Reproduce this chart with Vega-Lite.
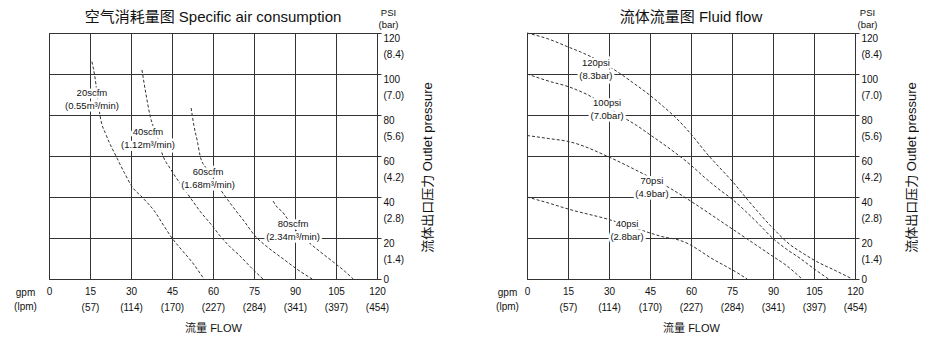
{
  "$schema": "https://vega.github.io/schema/vega-lite/v6.json",
  "background": "white",
  "padding": {"left": 13, "top": 6, "right": 0, "bottom": 0},
  "spacing": 60,
  "config": {
    "view": {"stroke": "#333", "strokeWidth": 1},
    "font": "Liberation Sans, Noto Sans CJK SC, sans-serif"
  },
  "datasets": {
    "air": [
      {"curve": "20scfm", "flow": 15.7, "psi": 106}, {"curve": "20scfm", "flow": 16.8, "psi": 98.5}, {"curve": "20scfm", "flow": 18.3, "psi": 83}, {"curve": "20scfm", "flow": 18.7, "psi": 79.5}, {"curve": "20scfm", "flow": 21, "psi": 70}, {"curve": "20scfm", "flow": 24.5, "psi": 60}, {"curve": "20scfm", "flow": 27.5, "psi": 52}, {"curve": "20scfm", "flow": 30.4, "psi": 45}, {"curve": "20scfm", "flow": 34, "psi": 40}, {"curve": "20scfm", "flow": 38.8, "psi": 32.7}, {"curve": "20scfm", "flow": 42, "psi": 26}, {"curve": "20scfm", "flow": 45, "psi": 20}, {"curve": "20scfm", "flow": 49, "psi": 13.5}, {"curve": "20scfm", "flow": 52.3, "psi": 8.3}, {"curve": "20scfm", "flow": 56.7, "psi": 0},
      {"curve": "40scfm", "flow": 34, "psi": 102}, {"curve": "40scfm", "flow": 35.5, "psi": 90}, {"curve": "40scfm", "flow": 37, "psi": 79.5}, {"curve": "40scfm", "flow": 39.5, "psi": 70}, {"curve": "40scfm", "flow": 41.7, "psi": 60}, {"curve": "40scfm", "flow": 44.3, "psi": 54}, {"curve": "40scfm", "flow": 48, "psi": 46.5}, {"curve": "40scfm", "flow": 51.5, "psi": 40}, {"curve": "40scfm", "flow": 55.3, "psi": 33}, {"curve": "40scfm", "flow": 60, "psi": 25.5}, {"curve": "40scfm", "flow": 62.6, "psi": 21}, {"curve": "40scfm", "flow": 66, "psi": 16}, {"curve": "40scfm", "flow": 69.9, "psi": 11.2}, {"curve": "40scfm", "flow": 74, "psi": 5.5}, {"curve": "40scfm", "flow": 78.3, "psi": 0},
      {"curve": "60scfm", "flow": 52, "psi": 83.4}, {"curve": "60scfm", "flow": 53, "psi": 75}, {"curve": "60scfm", "flow": 54.3, "psi": 67}, {"curve": "60scfm", "flow": 55.3, "psi": 60}, {"curve": "60scfm", "flow": 57.5, "psi": 54}, {"curve": "60scfm", "flow": 62, "psi": 45}, {"curve": "60scfm", "flow": 67.4, "psi": 35}, {"curve": "60scfm", "flow": 71.5, "psi": 28}, {"curve": "60scfm", "flow": 75.4, "psi": 21}, {"curve": "60scfm", "flow": 80, "psi": 15.5}, {"curve": "60scfm", "flow": 85.7, "psi": 9.8}, {"curve": "60scfm", "flow": 90.5, "psi": 5}, {"curve": "60scfm", "flow": 96.3, "psi": 0},
      {"curve": "80scfm", "flow": 82, "psi": 38}, {"curve": "80scfm", "flow": 83.5, "psi": 35}, {"curve": "80scfm", "flow": 85.2, "psi": 33}, {"curve": "80scfm", "flow": 89, "psi": 26}, {"curve": "80scfm", "flow": 93.7, "psi": 19.5}, {"curve": "80scfm", "flow": 99, "psi": 13.5}, {"curve": "80scfm", "flow": 104, "psi": 8.3}, {"curve": "80scfm", "flow": 108, "psi": 4}, {"curve": "80scfm", "flow": 111.3, "psi": 0}
    ],
    "airlab": [
      {"flow": 15.7, "psi": 90.5, "t": "20scfm\n(0.55m³/min)"},
      {"flow": 36.2, "psi": 71.5, "t": "40scfm\n(1.12m³/min)"},
      {"flow": 58.2, "psi": 52.2, "t": "60scfm\n(1.68m³/min)"},
      {"flow": 89.3, "psi": 26.8, "t": "80scfm\n(2.34m³/min)"}
    ],
    "fluid": [
      {"curve": "120psi", "flow": 0, "psi": 120}, {"curve": "120psi", "flow": 8, "psi": 117}, {"curve": "120psi", "flow": 15.4, "psi": 113}, {"curve": "120psi", "flow": 19.7, "psi": 110.7}, {"curve": "120psi", "flow": 32.6, "psi": 101.5}, {"curve": "120psi", "flow": 38.5, "psi": 96}, {"curve": "120psi", "flow": 44.6, "psi": 90}, {"curve": "120psi", "flow": 50, "psi": 84}, {"curve": "120psi", "flow": 53.8, "psi": 79.5}, {"curve": "120psi", "flow": 60, "psi": 70.7}, {"curve": "120psi", "flow": 65.9, "psi": 61}, {"curve": "120psi", "flow": 70, "psi": 55}, {"curve": "120psi", "flow": 75, "psi": 47.8}, {"curve": "120psi", "flow": 80.5, "psi": 39}, {"curve": "120psi", "flow": 85, "psi": 32}, {"curve": "120psi", "flow": 89.8, "psi": 25}, {"curve": "120psi", "flow": 96, "psi": 17}, {"curve": "120psi", "flow": 101, "psi": 12.5}, {"curve": "120psi", "flow": 106, "psi": 8.5}, {"curve": "120psi", "flow": 113, "psi": 4}, {"curve": "120psi", "flow": 119, "psi": 0},
      {"curve": "100psi", "flow": 0, "psi": 100}, {"curve": "100psi", "flow": 8, "psi": 96.5}, {"curve": "100psi", "flow": 15.4, "psi": 93.7}, {"curve": "100psi", "flow": 22, "psi": 90}, {"curve": "100psi", "flow": 34.4, "psi": 79.5}, {"curve": "100psi", "flow": 40, "psi": 75}, {"curve": "100psi", "flow": 45.4, "psi": 70}, {"curve": "100psi", "flow": 53.8, "psi": 62}, {"curve": "100psi", "flow": 60, "psi": 55.5}, {"curve": "100psi", "flow": 65, "psi": 49.5}, {"curve": "100psi", "flow": 70, "psi": 44}, {"curve": "100psi", "flow": 75, "psi": 39}, {"curve": "100psi", "flow": 80, "psi": 33}, {"curve": "100psi", "flow": 85, "psi": 26.5}, {"curve": "100psi", "flow": 89.8, "psi": 20}, {"curve": "100psi", "flow": 95, "psi": 14.5}, {"curve": "100psi", "flow": 100, "psi": 10}, {"curve": "100psi", "flow": 105, "psi": 5}, {"curve": "100psi", "flow": 110.3, "psi": 0},
      {"curve": "70psi", "flow": 0, "psi": 70}, {"curve": "70psi", "flow": 8, "psi": 68.5}, {"curve": "70psi", "flow": 15.4, "psi": 67}, {"curve": "70psi", "flow": 30, "psi": 59.5}, {"curve": "70psi", "flow": 39, "psi": 53.7}, {"curve": "70psi", "flow": 52.7, "psi": 44}, {"curve": "70psi", "flow": 59.3, "psi": 38.5}, {"curve": "70psi", "flow": 65, "psi": 33.5}, {"curve": "70psi", "flow": 70, "psi": 29}, {"curve": "70psi", "flow": 75, "psi": 24.5}, {"curve": "70psi", "flow": 80, "psi": 20}, {"curve": "70psi", "flow": 85, "psi": 15.5}, {"curve": "70psi", "flow": 90, "psi": 11}, {"curve": "70psi", "flow": 95, "psi": 6.5}, {"curve": "70psi", "flow": 100.6, "psi": 0},
      {"curve": "40psi", "flow": 0, "psi": 40}, {"curve": "40psi", "flow": 8, "psi": 37}, {"curve": "40psi", "flow": 15.4, "psi": 34}, {"curve": "40psi", "flow": 30, "psi": 29}, {"curve": "40psi", "flow": 42.8, "psi": 23.4}, {"curve": "40psi", "flow": 50, "psi": 20.5}, {"curve": "40psi", "flow": 55.6, "psi": 19}, {"curve": "40psi", "flow": 59.3, "psi": 17}, {"curve": "40psi", "flow": 63, "psi": 14}, {"curve": "40psi", "flow": 67, "psi": 10.5}, {"curve": "40psi", "flow": 73, "psi": 6}, {"curve": "40psi", "flow": 77, "psi": 3}, {"curve": "40psi", "flow": 80.5, "psi": 0}
    ],
    "fluidlab": [
      {"flow": 25.2, "psi": 105.6, "t": "120psi\n(8.3bar)"},
      {"flow": 29.3, "psi": 85.9, "t": "100psi\n(7.0bar)"},
      {"flow": 45.7, "psi": 47.6, "t": "70psi\n(4.9bar)"},
      {"flow": 36.6, "psi": 26.6, "t": "40psi\n(2.8bar)"}
    ]
  },
  "hconcat": [
    {
      "width": 328,
      "height": 246,
      "title": {"text": "空气消耗量图 Specific air consumption", "fontSize": 15, "fontWeight": "normal", "anchor": "middle", "offset": -18, "color": "#111"},
      "layer": [
        {
          "data": {"name": "air"},
          "mark": {"type": "line", "strokeDash": [3, 2], "strokeWidth": 1, "color": "#333", "interpolate": "monotone"},
          "encoding": {
            "x": {"field": "flow", "type": "quantitative", "scale": {"domain": [0, 120], "nice": false},
              "axis": {"orient": "bottom", "values": [0, 15, 30, 45, 60, 75, 90, 105, 120], "grid": true, "gridColor": "#333", "gridWidth": 1, "gridOpacity": 1, "domain": false, "ticks": false, "labelPadding": 7, "labelBaseline": "top", "labelFontSize": 10, "labelColor": "#111", "labelLineHeight": 16, "labelFlush": false, "labelOverlap": false,
                "labelExpr": "datum.value == 0 ? '0' : [datum.label, '(' + round(datum.value * 3.785) + ')']",
                "title": "流量 FLOW", "titleFontSize": 11, "titleFontWeight": "normal", "titleColor": "#111", "titleX": 164, "titleY": 49, "titleAlign": "center", "titleBaseline": "middle"}},
            "y": {"field": "psi", "type": "quantitative", "scale": {"domain": [0, 120], "nice": false},
              "axis": {"orient": "right", "values": [0, 20, 40, 60, 80, 100, 120], "grid": true, "gridColor": "#333", "gridWidth": 1, "gridOpacity": 1, "domain": false, "ticks": true, "tickSize": 4, "tickColor": "#333", "labelPadding": 2, "labelAlign": "left", "labelBaseline": "alphabetic", "labelOffset": {"condition": {"test": "datum.value == 0", "value": 3}, "value": 8}, "labelLineHeight": 16, "labelFontSize": 10, "labelColor": "#111", "labelFlush": false, "labelOverlap": false,
                "labelExpr": "datum.value == 0 ? '0' : [datum.label, '(' + format(datum.value * 0.07, '.1f') + ')']",
                "title": "流体出口压力 Outlet pressure", "titleAngle": 270, "titleX": 50, "titleY": 134, "titleAlign": "center", "titleBaseline": "middle", "titleFontSize": 13, "titleFontWeight": "normal", "titleColor": "#111"}},
            "detail": {"field": "curve"}
          }
        },
        {
          "data": {"name": "airlab"},
          "mark": {"type": "text", "lineBreak": "\n", "lineHeight": 13, "fontSize": 9.5, "align": "center", "baseline": "middle", "fill": "white", "stroke": "white", "strokeWidth": 5},
          "encoding": {
            "x": {"field": "flow", "type": "quantitative", "axis": {"orient": "top", "labels": false, "ticks": false, "domain": false, "grid": false, "title": ["PSI", "(bar)"], "titleX": 339, "titleY": -21, "titleAlign": "center", "titleBaseline": "middle", "titleFontSize": 9.5, "titleFontWeight": "normal", "titleColor": "#111", "titleLineHeight": 12}},
            "y": {"field": "psi", "type": "quantitative", "axis": {"orient": "left", "labels": false, "ticks": false, "domain": false, "grid": false, "title": ["gpm", "(lpm)"], "titleAngle": 0, "titleX": -24, "titleY": 259, "titleAlign": "center", "titleBaseline": "middle", "titleFontSize": 10, "titleFontWeight": "normal", "titleColor": "#111", "titleLineHeight": 14}},
            "text": {"field": "t"}
          }
        },
        {
          "data": {"name": "airlab"},
          "mark": {"type": "text", "lineBreak": "\n", "lineHeight": 13, "fontSize": 9.5, "align": "center", "baseline": "middle", "color": "#111"},
          "encoding": {
            "x": {"field": "flow", "type": "quantitative", "axis": null},
            "y": {"field": "psi", "type": "quantitative", "axis": null},
            "text": {"field": "t"}
          }
        }
      ],
      "resolve": {"axis": {"x": "independent", "y": "independent"}}
    },
    {
      "width": 328,
      "height": 246,
      "title": {"text": "流体流量图 Fluid flow", "fontSize": 15, "fontWeight": "normal", "anchor": "middle", "offset": -18, "color": "#111"},
      "layer": [
        {
          "data": {"name": "fluid"},
          "mark": {"type": "line", "strokeDash": [3, 2], "strokeWidth": 1, "color": "#333", "interpolate": "monotone"},
          "encoding": {
            "x": {"field": "flow", "type": "quantitative", "scale": {"domain": [0, 120], "nice": false},
              "axis": {"orient": "bottom", "values": [0, 15, 30, 45, 60, 75, 90, 105, 120], "grid": true, "gridColor": "#333", "gridWidth": 1, "gridOpacity": 1, "domain": false, "ticks": false, "labelPadding": 7, "labelBaseline": "top", "labelFontSize": 10, "labelColor": "#111", "labelLineHeight": 16, "labelFlush": false, "labelOverlap": false,
                "labelExpr": "datum.value == 0 ? '0' : [datum.label, '(' + round(datum.value * 3.785) + ')']",
                "title": "流量 FLOW", "titleFontSize": 11, "titleFontWeight": "normal", "titleColor": "#111", "titleX": 164, "titleY": 49, "titleAlign": "center", "titleBaseline": "middle"}},
            "y": {"field": "psi", "type": "quantitative", "scale": {"domain": [0, 120], "nice": false},
              "axis": {"orient": "right", "values": [0, 20, 40, 60, 80, 100, 120], "grid": true, "gridColor": "#333", "gridWidth": 1, "gridOpacity": 1, "domain": false, "ticks": true, "tickSize": 4, "tickColor": "#333", "labelPadding": 2, "labelAlign": "left", "labelBaseline": "alphabetic", "labelOffset": {"condition": {"test": "datum.value == 0", "value": 3}, "value": 8}, "labelLineHeight": 16, "labelFontSize": 10, "labelColor": "#111", "labelFlush": false, "labelOverlap": false,
                "labelExpr": "datum.value == 0 ? '0' : [datum.label, '(' + format(datum.value * 0.07, '.1f') + ')']",
                "title": "流体出口压力 Outlet pressure", "titleAngle": 270, "titleX": 56, "titleY": 134, "titleAlign": "center", "titleBaseline": "middle", "titleFontSize": 13, "titleFontWeight": "normal", "titleColor": "#111"}},
            "detail": {"field": "curve"}
          }
        },
        {
          "data": {"name": "fluidlab"},
          "mark": {"type": "text", "lineBreak": "\n", "lineHeight": 13, "fontSize": 9.5, "align": "center", "baseline": "middle", "fill": "white", "stroke": "white", "strokeWidth": 5},
          "encoding": {
            "x": {"field": "flow", "type": "quantitative", "axis": {"orient": "top", "labels": false, "ticks": false, "domain": false, "grid": false, "title": ["PSI", "(bar)"], "titleX": 340, "titleY": -21, "titleAlign": "center", "titleBaseline": "middle", "titleFontSize": 9.5, "titleFontWeight": "normal", "titleColor": "#111", "titleLineHeight": 12}},
            "y": {"field": "psi", "type": "quantitative", "axis": {"orient": "left", "labels": false, "ticks": false, "domain": false, "grid": false, "title": ["gpm", "(lpm)"], "titleAngle": 0, "titleX": -20, "titleY": 259, "titleAlign": "center", "titleBaseline": "middle", "titleFontSize": 10, "titleFontWeight": "normal", "titleColor": "#111", "titleLineHeight": 14}},
            "text": {"field": "t"}
          }
        },
        {
          "data": {"name": "fluidlab"},
          "mark": {"type": "text", "lineBreak": "\n", "lineHeight": 13, "fontSize": 9.5, "align": "center", "baseline": "middle", "color": "#111"},
          "encoding": {
            "x": {"field": "flow", "type": "quantitative", "axis": null},
            "y": {"field": "psi", "type": "quantitative", "axis": null},
            "text": {"field": "t"}
          }
        }
      ],
      "resolve": {"axis": {"x": "independent", "y": "independent"}}
    }
  ]
}
